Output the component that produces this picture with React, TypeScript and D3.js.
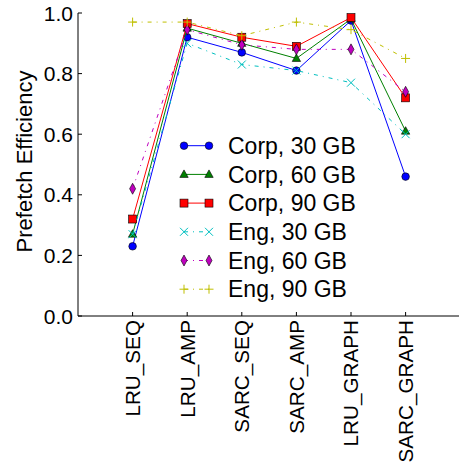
import React, { useEffect, useRef } from 'react';
import * as d3 from 'd3';

const categories = ['LRU_SEQ', 'LRU_AMP', 'SARC_SEQ', 'SARC_AMP', 'LRU_GRAPH', 'SARC_GRAPH'];
const yTicks = [0.0, 0.2, 0.4, 0.6, 0.8, 1.0];

const corp30 = [0.23, 0.92, 0.87, 0.81, 0.975, 0.46];
const corp60 = [0.27, 0.95, 0.9, 0.85, 0.98, 0.61];
const corp90 = [0.32, 0.965, 0.92, 0.89, 0.985, 0.72];
const eng30 = [0.27, 0.9, 0.83, 0.81, 0.77, 0.6];
const eng60 = [0.42, 0.945, 0.895, 0.88, 0.88, 0.74];
const eng90 = [0.97, 0.97, 0.925, 0.97, 0.945, 0.85];

const seriesNames = ['Corp, 30 GB', 'Corp, 60 GB', 'Corp, 90 GB', 'Eng, 30 GB', 'Eng, 60 GB', 'Eng, 90 GB'];
const seriesValues = [corp30, corp60, corp90, eng30, eng60, eng90];
const seriesColors = ['#0000ff', '#008000', '#ff0000', '#00bfbf', '#bf00bf', '#bfbf00'];
const seriesMarkers = ['circle', 'triangle', 'square', 'x', 'diamond', 'plus'];
const seriesDash = [null, null, null, '4,5,1,5', '4,5,1,5', '4,5,1,5'];

const FONT = '"Liberation Sans", Arial, sans-serif';

function drawMarker(g, kind, x, y, color) {
  if (kind === 'circle') {
    g.append('circle').attr('cx', x).attr('cy', y).attr('r', 3.8)
      .attr('fill', color).attr('stroke', '#000').attr('stroke-width', 0.6);
  } else if (kind === 'square') {
    g.append('rect').attr('x', x - 4).attr('y', y - 4).attr('width', 8).attr('height', 8)
      .attr('fill', color).attr('stroke', '#000').attr('stroke-width', 0.6);
  } else if (kind === 'triangle') {
    g.append('path').attr('d', `M${x},${y - 4.5}L${x + 4.2},${y + 3}L${x - 4.2},${y + 3}Z`)
      .attr('fill', color).attr('stroke', '#000').attr('stroke-width', 0.6);
  } else if (kind === 'diamond') {
    g.append('path').attr('d', `M${x},${y - 5.5}L${x + 3},${y}L${x},${y + 5.5}L${x - 3},${y}Z`)
      .attr('fill', color).attr('stroke', '#000').attr('stroke-width', 0.6);
  } else if (kind === 'x') {
    g.append('path').attr('d', `M${x - 4},${y - 4}L${x + 4},${y + 4}M${x - 4},${y + 4}L${x + 4},${y - 4}`)
      .attr('stroke', color).attr('stroke-width', 1);
  } else if (kind === 'plus') {
    g.append('path').attr('d', `M${x - 4.5},${y}L${x + 4.5},${y}M${x},${y - 4.5}L${x},${y + 4.5}`)
      .attr('stroke', color).attr('stroke-width', 1);
  }
}

const App = () => {
  const ref = useRef(null);

  useEffect(() => {
    const svg = d3.select(ref.current);
    svg.selectAll('*').remove();

    const x = d3.scaleLinear().domain([-1, 6]).range([78, 460.2]);
    const y = d3.scaleLinear().domain([0, 1]).range([316, 13]);

    // axes lines
    svg.append('line').attr('x1', x(-1)).attr('x2', 459).attr('y1', y(0)).attr('y2', y(0))
      .attr('stroke', '#000').attr('stroke-width', 1);
    svg.append('line').attr('x1', x(-1)).attr('x2', x(-1)).attr('y1', y(0)).attr('y2', y(1))
      .attr('stroke', '#000').attr('stroke-width', 1);

    // y ticks
    yTicks.forEach(t => {
      svg.append('line').attr('x1', x(-1)).attr('x2', x(-1) + 4).attr('y1', y(t)).attr('y2', y(t))
        .attr('stroke', '#000');
      svg.append('text').attr('x', 73).attr('y', y(t)).attr('dy', '0.36em')
        .attr('text-anchor', 'end').attr('font-family', FONT).attr('font-size', 21)
        .text(t.toFixed(1));
    });

    // x ticks
    categories.forEach((c, i) => {
      svg.append('line').attr('x1', x(i)).attr('x2', x(i)).attr('y1', y(0)).attr('y2', y(0) - 4)
        .attr('stroke', '#000');
      svg.append('text').attr('transform', `translate(${x(i)},320) rotate(-90)`)
        .attr('dy', '0.36em').attr('text-anchor', 'end')
        .attr('font-family', FONT).attr('font-size', 20.7).text(c);
    });

    // y label
    svg.append('text').attr('transform', `translate(24,${(65 + 258) / 2}) rotate(-90)`)
      .attr('dy', '0.36em').attr('text-anchor', 'middle')
      .attr('font-family', FONT).attr('font-size', 22).text('Prefetch Efficiency');

    // lines
    const line = d3.line().x((d, i) => x(i)).y(d => y(d));
    seriesValues.forEach((vals, s) => {
      const p = svg.append('path').attr('d', line(vals)).attr('fill', 'none')
        .attr('stroke', seriesColors[s]).attr('stroke-width', 1);
      if (seriesDash[s]) p.attr('stroke-dasharray', seriesDash[s]);
      const g = svg.append('g');
      vals.forEach((v, i) => drawMarker(g, seriesMarkers[s], x(i), y(v), seriesColors[s]));
    });

    // legend
    seriesNames.forEach((name, s) => {
      const ly = 145.7 + s * 28.7;
      const l = svg.append('line').attr('x1', 184).attr('x2', 209).attr('y1', ly).attr('y2', ly)
        .attr('stroke', seriesColors[s]).attr('stroke-width', 1);
      if (seriesDash[s]) l.attr('stroke-dasharray', seriesDash[s]);
      const g = svg.append('g');
      drawMarker(g, seriesMarkers[s], 184, ly, seriesColors[s]);
      drawMarker(g, seriesMarkers[s], 209, ly, seriesColors[s]);
      svg.append('text').attr('x', 228).attr('y', ly).attr('dy', '0.36em')
        .attr('font-family', FONT).attr('font-size', 23).text(name);
    });
  }, []);

  return (
    <div style={{ position: 'absolute', left: 0, top: 0 }}>
      <svg ref={ref} width={459} height={470} style={{ display: 'block', background: '#fff' }}></svg>
    </div>
  );
};

export default App;
